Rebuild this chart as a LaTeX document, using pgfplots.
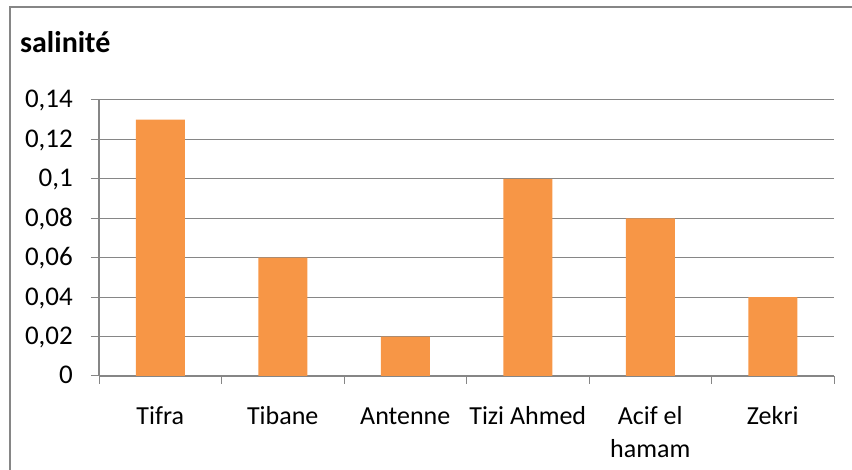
\documentclass[border=0pt]{standalone}
\usepackage{fontspec}
\setmainfont{Carlito}
\usepackage{pgfplots}
\pgfplotsset{compat=1.18}
\definecolor{gridgray}{HTML}{868686}
\definecolor{barorange}{HTML}{F79646}
\begin{document}
\begin{tikzpicture}[x=1pt,y=1pt]
\useasboundingbox (0,0) rectangle (852,470);
% chart frame
\draw[gridgray, line width=1.4pt] (10,-20) -- (10,463) -- (880,463);
% chart title
\node[anchor=base west, inner sep=0pt, font=\fontsize{30}{36}\selectfont\bfseries] at (20,417) {salinité};
\begin{axis}[
  at={(99pt,94pt)}, anchor=south west,
  scale only axis, width=735pt, height=276pt,
  xmin=-0.5, xmax=5.5, ymin=0, ymax=0.14,
  axis lines*=left,
  axis line style={gridgray, line width=1.2pt},
  ymajorgrids, grid style={gridgray, line width=1pt},
  ytick={0,0.02,0.04,0.06,0.08,0.1,0.12,0.14},
  /pgf/number format/.cd, fixed, precision=2, use comma, assume math mode=true, /pgfplots/.cd,
  ytick style={draw=gridgray, line width=1pt},
  tick align=outside, major tick length=8pt,
  yticklabel style={font=\fontsize{27}{32}\selectfont, anchor=base east, inner sep=0pt, xshift=-18pt, yshift=-8pt},
  xtick={0,1,2,3,4,5},
  xticklabels={Tifra,Tibane,Antenne,Tizi Ahmed,{\begin{tabular}[t]{@{}c@{}}Acif el\\hamam\end{tabular}},Zekri},
  xtick style={draw=none},
  xticklabel style={font=\fontsize{26}{33}\selectfont, anchor=base, inner sep=0pt, yshift=-41pt},
  extra x ticks={-0.5,0.5,1.5,2.5,3.5,4.5,5.5},
  extra x tick labels={},
  extra x tick style={xtick style={draw=gridgray, line width=1pt}},
]
\addplot[ybar, bar width=49pt, bar shift=0pt, fill=barorange, draw=none]
  coordinates {(0,0.13) (1,0.06) (2,0.02) (3,0.1) (4,0.08) (5,0.04)};
\end{axis}
\end{tikzpicture}
\end{document}
